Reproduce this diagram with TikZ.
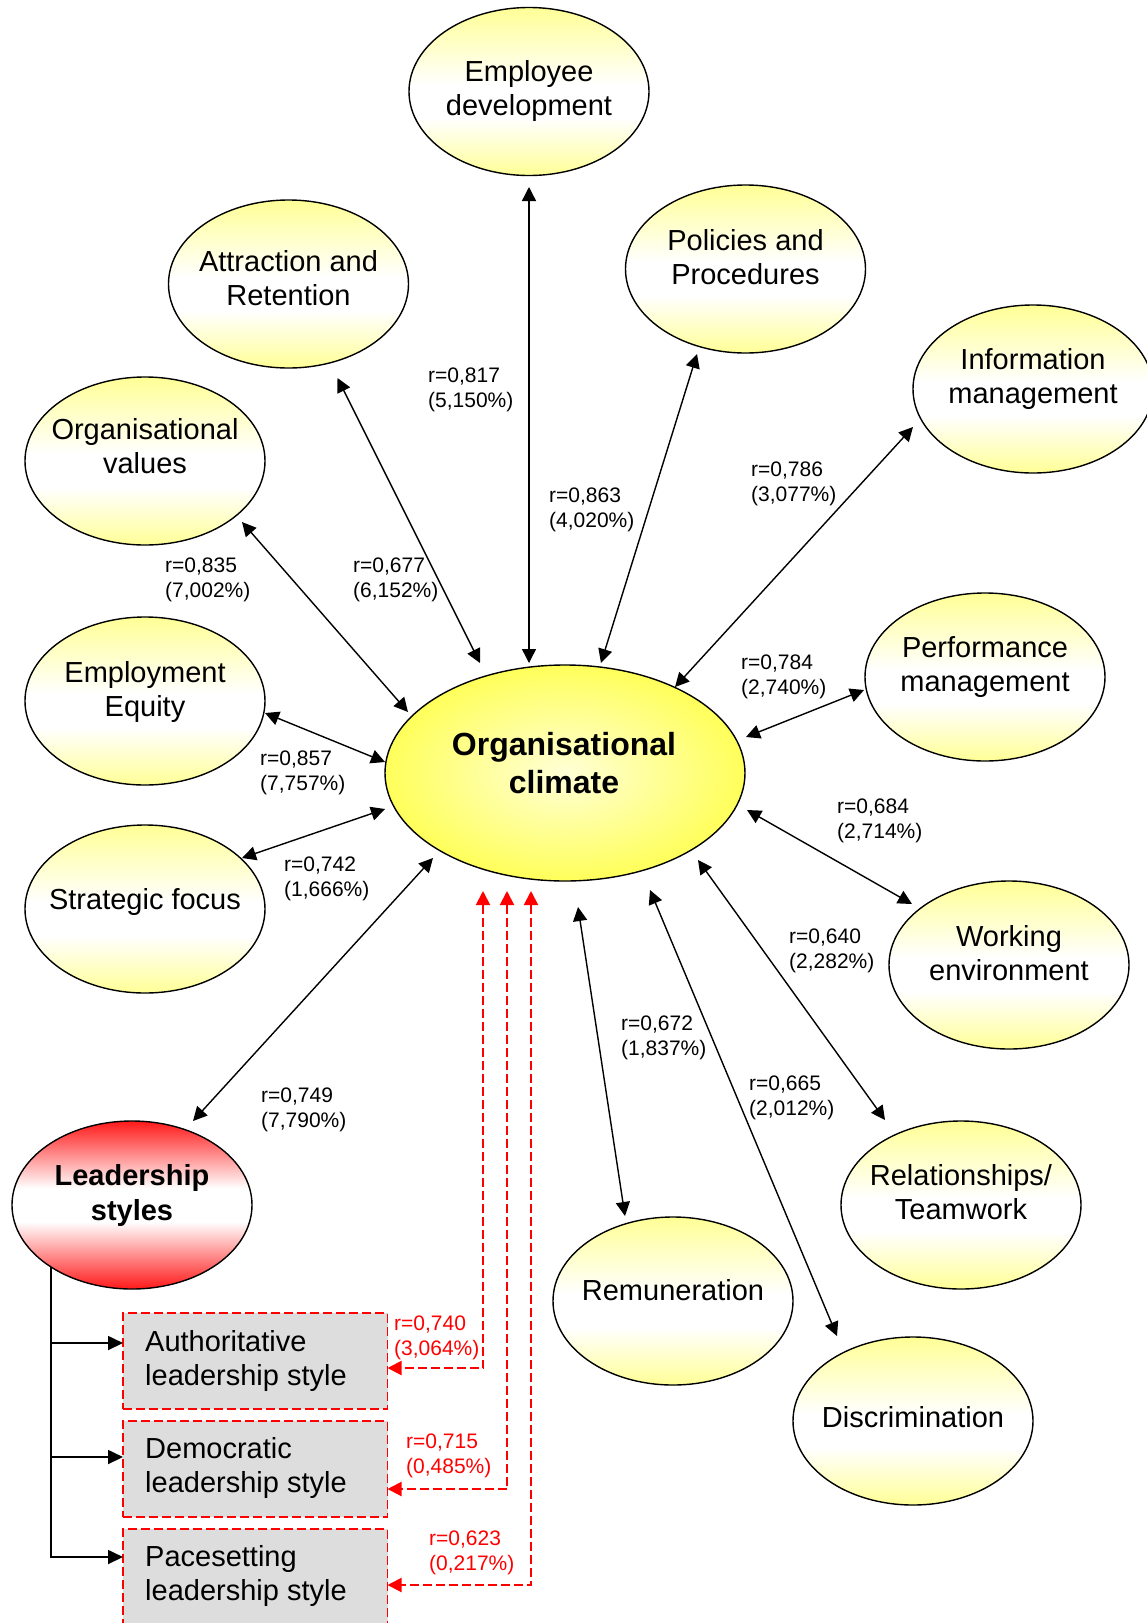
\documentclass[tikz,border=0pt]{standalone}
\usepackage{fontspec}
\setmainfont{Liberation Sans}
\usetikzlibrary{shapes.geometric, arrows.meta}

% colours
\definecolor{bubY}{RGB}{255,255,150}
\definecolor{climIn}{RGB}{255,255,215}
\definecolor{climOut}{RGB}{255,255,90}
\definecolor{leadR}{RGB}{255,25,25}
\definecolor{boxgray}{RGB}{221,221,221}

% shadings: pale yellow bubbles, radial yellow centre, red leadership bubble
\pgfdeclareverticalshading{bubbleshade}{100bp}{color(0bp)=(bubY); color(25bp)=(bubY); color(42bp)=(white); color(52bp)=(white); color(75bp)=(bubY); color(100bp)=(bubY)}
\pgfdeclareverticalshading{leadshade}{100bp}{color(0bp)=(leadR); color(25bp)=(leadR); color(45bp)=(white); color(55bp)=(white); color(75bp)=(leadR); color(100bp)=(leadR)}
\pgfdeclareradialshading{climshade}{\pgfpoint{0bp}{0bp}}{color(0bp)=(climIn); color(25bp)=(climOut); color(50bp)=(climOut)}

% fonts
\newcommand{\bubfont}{\fontsize{29}{33.5}\selectfont}
\newcommand{\climfont}{\fontsize{32}{38}\selectfont\bfseries}
\newcommand{\leadfont}{\fontsize{29}{35}\selectfont\bfseries}
\newcommand{\boxfont}{\fontsize{29}{34}\selectfont}
\newcommand{\corrfont}{\fontsize{21}{24.5}\selectfont}
\newcommand{\txtstack}[2][c]{\begin{tabular}[b]{@{}#1@{}}#2\end{tabular}}

\tikzset{
  bubble/.style={ellipse, draw=black, line width=1.4pt, minimum width=240pt,
    minimum height=168pt, inner sep=0pt, shade, shading=bubbleshade},
  climate/.style={ellipse, draw=black, line width=1.4pt, minimum width=360pt,
    minimum height=216pt, inner sep=0pt, shade, shading=climshade},
  leader/.style={ellipse, draw=black, line width=1.4pt, minimum width=240pt,
    minimum height=168pt, inner sep=0pt, shade, shading=leadshade},
  stylebox/.style={rectangle, draw=red, fill=boxgray, line width=1.8pt,
    dash pattern=on 9pt off 4pt, minimum width=264.5pt, minimum height=96pt,
    inner sep=0pt, outer sep=0pt},
  bubtext/.style={font=\bubfont, inner sep=0pt, anchor=base},
  boxtext/.style={font=\boxfont, inner sep=0pt, anchor=base west},
  corr/.style={font=\corrfont, inner sep=0pt, anchor=base west},
  redcorr/.style={corr, text=red},
  tipA/.tip={Triangle[length=14pt,width=14pt]},
  link/.style={line width=1.4pt, tipA-tipA},
  redlink/.style={draw=red, line width=2pt, dash pattern=on 9pt off 4pt, tipA-tipA},
  tree/.style={line width=1.8pt, -{Triangle[length=15pt,width=14pt]}},
}

\begin{document}
\begin{tikzpicture}[x=1pt, y=-1pt]
\useasboundingbox (0,0) rectangle (1147,1623);

% ---- bubbles ----
\node[bubble] (emp)    at (529,91.5)  {};
\node[bubble] (attr)   at (288.5,284) {};
\node[bubble] (pol)    at (745.5,269) {};
\node[bubble] (info)   at (1033,389)  {};
\node[bubble] (val)    at (145,461)   {};
\node[bubble] (perf)   at (985,677)   {};
\node[bubble] (equity) at (145,701)   {};
\node[bubble] (strat)  at (145,909)   {};
\node[bubble] (work)   at (1009,965)  {};
\node[bubble] (rel)    at (961,1205)  {};
\node[bubble] (rem)    at (673,1301)  {};
\node[bubble] (disc)   at (913,1421)  {};
\node[climate] (clim)  at (565,773)   {};
\node[leader] (lead)   at (132,1205)  {};

% ---- bubble texts ----
\node[bubtext] (emp-t)    at ([shift={(0,23.5)}]emp.center)  {\txtstack{Employee\\development}};
\node[bubtext] (attr-t)   at ([shift={(0,21)}]attr.center)   {\txtstack{Attraction and\\Retention}};
\node[bubtext] (pol-t)    at ([shift={(0,15)}]pol.center)    {\txtstack{Policies and\\Procedures}};
\node[bubtext] (info-t)   at ([shift={(0,14)}]info.center)   {\txtstack{Information\\management}};
\node[bubtext] (val-t)    at ([shift={(0,12)}]val.center)    {\txtstack{Organisational\\values}};
\node[bubtext] (perf-t)   at ([shift={(0,14)}]perf.center)   {\txtstack{Performance\\management}};
\node[bubtext] (equity-t) at ([shift={(0,15)}]equity.center) {\txtstack{Employment\\Equity}};
\node[bubtext] (strat-t)  at ([shift={(0,0)}]strat.center)   {Strategic focus};
\node[bubtext] (work-t)   at ([shift={(0,15)}]work.center)   {\txtstack{Working\\environment}};
\node[bubtext] (rel-t)    at ([shift={(0,14)}]rel.center)    {\txtstack{Relationships/\\Teamwork}};
\node[bubtext] (rem-t)    at ([shift={(0,-1)}]rem.center)    {Remuneration};
\node[bubtext] (disc-t)   at ([shift={(0,6)}]disc.center)    {Discrimination};
\node[font=\climfont, inner sep=0pt, anchor=base] (clim-t) at ([shift={(-1,20)}]clim.center) {\txtstack{Organisational\\climate}};
\node[font=\leadfont, inner sep=0pt, anchor=base] (lead-t) at ([shift={(0,15)}]lead.center) {\txtstack{Leadership\\styles}};

% ---- leadership style boxes ----
\node[stylebox] (box1) at (255.25,1361) {};
\node[stylebox] (box2) at (255.25,1469) {};
\node[stylebox] (box3) at (255.25,1577) {};
\node[boxtext] (box1-t) at ([shift={(22,24)}]box1.west) {\txtstack[l]{Authoritative\\leadership style}};
\node[boxtext] (box2-t) at ([shift={(22,23)}]box2.west) {\txtstack[l]{Democratic\\leadership style}};
\node[boxtext] (box3-t) at ([shift={(22,23)}]box3.west) {\txtstack[l]{Pacesetting\\leadership style}};

% ---- correlations with the climate ----
\draw[link] ([shift={(0,95.5)}]emp.center)    -- ([shift={(-36,-110)}]clim.center);
\draw[link] ([shift={(49,94)}]attr.center)    -- ([shift={(-85,-110)}]clim.center);
\draw[link] ([shift={(-48.5,85)}]pol.center)  -- ([shift={(36,-110)}]clim.center);
\draw[link] ([shift={(-120,38)}]info.center)  -- ([shift={(110,-86)}]clim.center);
\draw[link] ([shift={(97,61)}]val.center)     -- ([shift={(-157,-61)}]clim.center);
\draw[link] ([shift={(-121,13)}]perf.center)  -- ([shift={(181,-36)}]clim.center);
\draw[link] ([shift={(120,12)}]equity.center) -- ([shift={(-180,-11)}]clim.center);
\draw[link] ([shift={(97,-51)}]strat.center)  -- ([shift={(-180,36)}]clim.center);
\draw[link] ([shift={(-97,-61)}]work.center)  -- ([shift={(182,37)}]clim.center);
\draw[link] ([shift={(61,-84)}]lead.center)   -- ([shift={(-132,85)}]clim.center);
\draw[link] ([shift={(-76,-85)}]rel.center)   -- ([shift={(133,87)}]clim.center);
\draw[link] ([shift={(-48,-85)}]rem.center)   -- ([shift={(13,134)}]clim.center);
\draw[link] ([shift={(-76,-85)}]disc.center)  -- ([shift={(85,117)}]clim.center);

% ---- style boxes to the climate ----
\draw[redlink] ([shift={(-82,118)}]clim.center) |- ([yshift=-7pt]box1.east);
\draw[redlink] ([shift={(-58,118)}]clim.center) |- ([yshift=-20pt]box2.east);
\draw[redlink] ([shift={(-34,118)}]clim.center) |- ([yshift=-8pt]box3.east);

% ---- leadership styles tree ----
\draw[tree] ([shift={(-81,62)}]lead.center) |- ([yshift=18pt]box1.west);
\draw[tree] ([shift={(-81,62)}]lead.center) |- ([yshift=12pt]box2.west);
\draw[tree] ([shift={(-81,62)}]lead.center) |- ([yshift=20pt]box3.west);

% ---- correlation labels ----
\node[corr] (r-emp)    at (428,407)  {\txtstack[l]{r=0,817\\(5,150\%)}};
\node[corr] (r-val)    at (165,597)  {\txtstack[l]{r=0,835\\(7,002\%)}};
\node[corr] (r-attr)   at (353,597)  {\txtstack[l]{r=0,677\\(6,152\%)}};
\node[corr] (r-pol)    at (549,527)  {\txtstack[l]{r=0,863\\(4,020\%)}};
\node[corr] (r-info)   at (751,501)  {\txtstack[l]{r=0,786\\(3,077\%)}};
\node[corr] (r-perf)   at (741,694)  {\txtstack[l]{r=0,784\\(2,740\%)}};
\node[corr] (r-equity) at (260,790)  {\txtstack[l]{r=0,857\\(7,757\%)}};
\node[corr] (r-work)   at (837,838)  {\txtstack[l]{r=0,684\\(2,714\%)}};
\node[corr] (r-strat)  at (284,896)  {\txtstack[l]{r=0,742\\(1,666\%)}};
\node[corr] (r-rel)    at (789,968)  {\txtstack[l]{r=0,640\\(2,282\%)}};
\node[corr] (r-rem)    at (621,1055) {\txtstack[l]{r=0,672\\(1,837\%)}};
\node[corr] (r-disc)   at (749,1115) {\txtstack[l]{r=0,665\\(2,012\%)}};
\node[corr] (r-lead)   at (261,1127) {\txtstack[l]{r=0,749\\(7,790\%)}};
\node[redcorr] (r-box1) at (394,1355) {\txtstack[l]{r=0,740\\(3,064\%)}};
\node[redcorr] (r-box2) at (406,1473) {\txtstack[l]{r=0,715\\(0,485\%)}};
\node[redcorr] (r-box3) at (429,1570) {\txtstack[l]{r=0,623\\(0,217\%)}};
\end{tikzpicture}
\end{document}
